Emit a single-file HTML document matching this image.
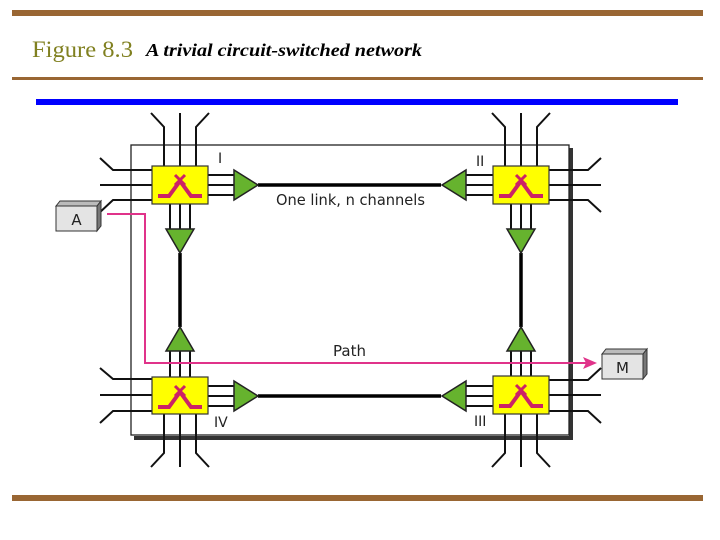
<!DOCTYPE html>
<html><head><meta charset="utf-8"><style>
html,body{margin:0;padding:0;background:#fff;}
svg{display:block;}
</style></head><body>
<svg width="720" height="540" viewBox="0 0 720 540" xmlns="http://www.w3.org/2000/svg">
<rect x="12" y="10" width="691" height="6" fill="#996633"/>
<rect x="12" y="77" width="691" height="3" fill="#996633"/>
<rect x="36" y="99" width="642" height="6" fill="#0000ff"/>
<rect x="12" y="495" width="691" height="6" fill="#996633"/>
<text x="32" y="57" font-family="Liberation Serif, serif" font-size="23" fill="#808020" textLength="101" lengthAdjust="spacingAndGlyphs">Figure 8.3</text>
<text x="146" y="56" font-family="Liberation Serif, serif" font-size="18" font-style="italic" font-weight="bold" fill="#000" textLength="276" lengthAdjust="spacingAndGlyphs">A trivial circuit-switched network</text>

<!-- outer box with shadow -->
<path d="M571 148 V438 H134" fill="none" stroke="#333" stroke-width="4"/>
<rect x="131" y="145" width="438" height="290" fill="none" stroke="#222" stroke-width="1.3"/>

<g stroke="#111" stroke-width="2" fill="none">
<path d="M164 166 V127 L151 113 M180 166 V113 M196 166 V127 L209 113"/>
<path d="M152 170 H113 L100 158 M152 185 H100 M152 200 H113 L98 214"/>
<path d="M208 175 H234 M208 185 H234 M208 195 H234"/>
<path d="M170 204 V229 M180 204 V229 M190 204 V229"/>
<path d="M505 166 V127 L492 113 M521 166 V113 M537 166 V127 L550 113"/>
<path d="M549 170 H588 L601 158 M549 185 H601 M549 200 H588 L601 212"/>
<path d="M493 175 H466 M493 185 H466 M493 195 H466"/>
<path d="M511 204 V229 M521 204 V229 M531 204 V229"/>
<path d="M164 414 V453 L151 467 M180 414 V467 M196 414 V453 L209 467"/>
<path d="M152 379 H113 L100 368 M152 395 H100 M152 411 H113 L100 423"/>
<path d="M208 386 H234 M208 396 H234 M208 406 H234"/>
<path d="M170 377 V351 M180 377 V351 M190 377 V351"/>
<path d="M505 414 V453 L492 467 M521 414 V467 M537 414 V453 L550 467"/>
<path d="M549 380 H588 L601 368 M549 395 H601 M549 411 H588 L601 423"/>
<path d="M493 386 H466 M493 396 H466 M493 406 H466"/>
<path d="M511 376 V351 M521 376 V351 M531 376 V351"/>
</g>
<g stroke="#000" stroke-width="3.5">
<line x1="258" y1="185" x2="441" y2="185"/>
<line x1="258" y1="396" x2="441" y2="396"/>
<line x1="180" y1="253" x2="180" y2="327"/>
<line x1="521" y1="253" x2="521" y2="327"/>
</g>
<g fill="#66b32e" stroke="#222" stroke-width="1.5">
<polygon points="234,170 234,200 258,185"/>
<polygon points="466,170 466,200 442,185"/>
<polygon points="234,381 234,411 258,396"/>
<polygon points="466,381 466,411 442,396"/>
<polygon points="166,229 194,229 180,253"/>
<polygon points="507,229 535,229 521,253"/>
<polygon points="166,351 194,351 180,327"/>
<polygon points="507,351 535,351 521,327"/>
</g>
<g>
<g transform="translate(152,166)"><rect width="56" height="38" fill="#ffff00" stroke="#333" stroke-width="1.2"/><path d="M6 30 H17 L28 15 L39 30 H50" fill="none" stroke="#cc2266" stroke-width="4"/><path d="M23 9 L33 19 M33 9 L23 19" stroke="#cc2266" stroke-width="3"/></g>
<g transform="translate(493,166)"><rect width="56" height="38" fill="#ffff00" stroke="#333" stroke-width="1.2"/><path d="M6 30 H17 L28 15 L39 30 H50" fill="none" stroke="#cc2266" stroke-width="4"/><path d="M23 9 L33 19 M33 9 L23 19" stroke="#cc2266" stroke-width="3"/></g>
<g transform="translate(152,377)"><rect width="56" height="37" fill="#ffff00" stroke="#333" stroke-width="1.2"/><path d="M6 30 H17 L28 15 L39 30 H50" fill="none" stroke="#cc2266" stroke-width="4"/><path d="M23 9 L33 19 M33 9 L23 19" stroke="#cc2266" stroke-width="3"/></g>
<g transform="translate(493,376)"><rect width="56" height="38" fill="#ffff00" stroke="#333" stroke-width="1.2"/><path d="M6 30 H17 L28 15 L39 30 H50" fill="none" stroke="#cc2266" stroke-width="4"/><path d="M23 9 L33 19 M33 9 L23 19" stroke="#cc2266" stroke-width="3"/></g>
</g>
<polygon points="56,206 60,201 101,201 97,206" fill="#bbb" stroke="#333"/>
<polygon points="97,206 101,201 101,226 97,231" fill="#777" stroke="#333"/>
<rect x="56" y="206" width="41" height="25" fill="#e4e4e4" stroke="#333"/>
<text x="76.5" y="225" text-anchor="middle" font-family="DejaVu Sans, sans-serif" font-size="15" fill="#222">A</text>
<polygon points="602,354 606,349 647,349 643,354" fill="#bbb" stroke="#333"/>
<polygon points="643,354 647,349 647,374 643,379" fill="#777" stroke="#333"/>
<rect x="602" y="354" width="41" height="25" fill="#e4e4e4" stroke="#333"/>
<text x="622.5" y="373" text-anchor="middle" font-family="DejaVu Sans, sans-serif" font-size="15" fill="#222">M</text>
<path d="M107 214 H145 V363 H588" fill="none" stroke="#e0338a" stroke-width="2"/>
<polygon points="597,363 583,357 586,363 583,369" fill="#e0338a"/>
<g font-family="DejaVu Sans, sans-serif" font-size="14" fill="#222">
<text x="218" y="163">I</text>
<text x="476" y="166">II</text>
<text x="214" y="427">IV</text>
<text x="474" y="426">III</text>
<text x="276" y="205" font-size="15" textLength="149" lengthAdjust="spacingAndGlyphs">One link, n channels</text>
<text x="333" y="356" font-size="15">Path</text>
</g>
</svg>
</body></html>
